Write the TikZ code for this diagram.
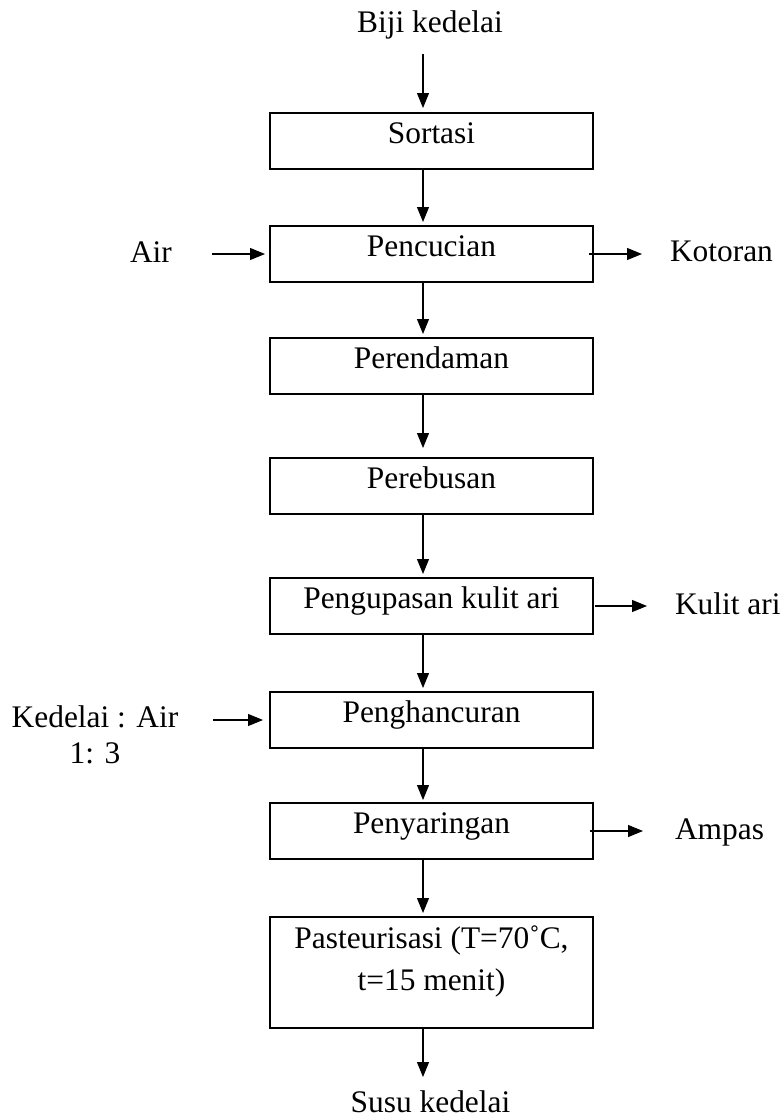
\documentclass[tikz,border=0pt]{standalone}
\usepackage{fontspec}
\setmainfont{Liberation Serif}
\usetikzlibrary{arrows.meta}
\begin{document}
\begin{tikzpicture}[x=1pt,y=-1pt,
  every node/.style={inner sep=0pt,outer sep=0pt,font=\fontsize{31.4}{36}\selectfont},
  box/.style={draw,line width=1.8pt,minimum width=323pt,minimum height=56pt,text height=22pt,text depth=18pt},
  flow/.style={line width=1.1pt,-{Triangle[length=15pt,width=12pt]}}]
\useasboundingbox (0,0) rectangle (783,1119);
% vertical axis of the main flow arrows
\coordinate (ax) at (423,0);

% process steps
\node[anchor=base] (biji) at (430,32) {Biji kedelai};
\node[box] (sortasi) at (431.5,141) {Sortasi};
\node[box] (pencucian) at (431.5,254) {Pencucian};
\node[box] (perendaman) at (431.5,366) {Perendaman};
\node[box] (perebusan) at (431.5,486) {Perebusan};
\node[box] (pengupasan) at (431.5,606) {Pengupasan kulit ari};
\node[box] (penghancuran) at (431.5,720) {Penghancuran};
\node[box] (penyaringan) at (431.5,831) {Penyaringan};
\node[box,minimum height=111pt,text height=60pt,text depth=25pt,font=\fontsize{31.4}{42}\selectfont]
  (pasteurisasi) at (431.5,972.5)
  {\begin{tabular}[b]{@{}c@{}}Pasteurisasi (T=70˚C,\\t=15 menit)\end{tabular}};
\node[anchor=base] (susu) at (430.5,1112) {Susu kedelai};

% inputs and outputs at the side
\node[anchor=base west] (air) at (130,262) {Air};
\node[anchor=base west] (kotoran) at (670,261) {Kotoran};
\node[anchor=base west] (kulit) at (675,614) {Kulit ari};
\node[anchor=base] (kedelai) at (95,727) {\begin{tabular}[t]{@{}c@{}}Kedelai : Air\\1: 3\end{tabular}};
\node[anchor=base west] (ampas) at (675,839) {Ampas};

% main flow
\draw[flow,shorten <=22pt,shorten >=5pt] (biji.base -| ax) -- (sortasi.north -| ax);
\draw[flow,shorten >=4pt] (sortasi.south -| ax) -- (pencucian.north -| ax);
\draw[flow,shorten >=4pt] (pencucian.south -| ax) -- (perendaman.north -| ax);
\draw[flow,shorten >=10pt] (perendaman.south -| ax) -- (perebusan.north -| ax);
\draw[flow,shorten >=4pt] (perebusan.south -| ax) -- (pengupasan.north -| ax);
\draw[flow,shorten >=4pt] (pengupasan.south -| ax) -- (penghancuran.north -| ax);
\draw[flow,shorten >=3pt] (penghancuran.south -| ax) -- (penyaringan.north -| ax);
\draw[flow,shorten >=4pt] (penyaringan.south -| ax) -- (pasteurisasi.north -| ax);
\draw[flow,shorten >=35pt] (pasteurisasi.south -| ax) -- (susu.base -| ax);

% side streams
\draw[flow,shorten <=40pt,shorten >=5pt] (air.east |- pencucian.west) -- (pencucian.west);
\draw[flow,shorten >=28pt] ([xshift=-4pt]pencucian.east) -- (kotoran.west |- pencucian.east);
\draw[flow,shorten <=2pt,shorten >=28pt] (pengupasan.east) -- (kulit.west |- pengupasan.east);
\draw[flow,shorten <=35pt,shorten >=7pt] (kedelai.east |- penghancuran.west) -- (penghancuran.west);
\draw[flow,shorten >=32pt] ([xshift=-3pt]penyaringan.east) -- (ampas.west |- penyaringan.east);
\end{tikzpicture}
\end{document}
